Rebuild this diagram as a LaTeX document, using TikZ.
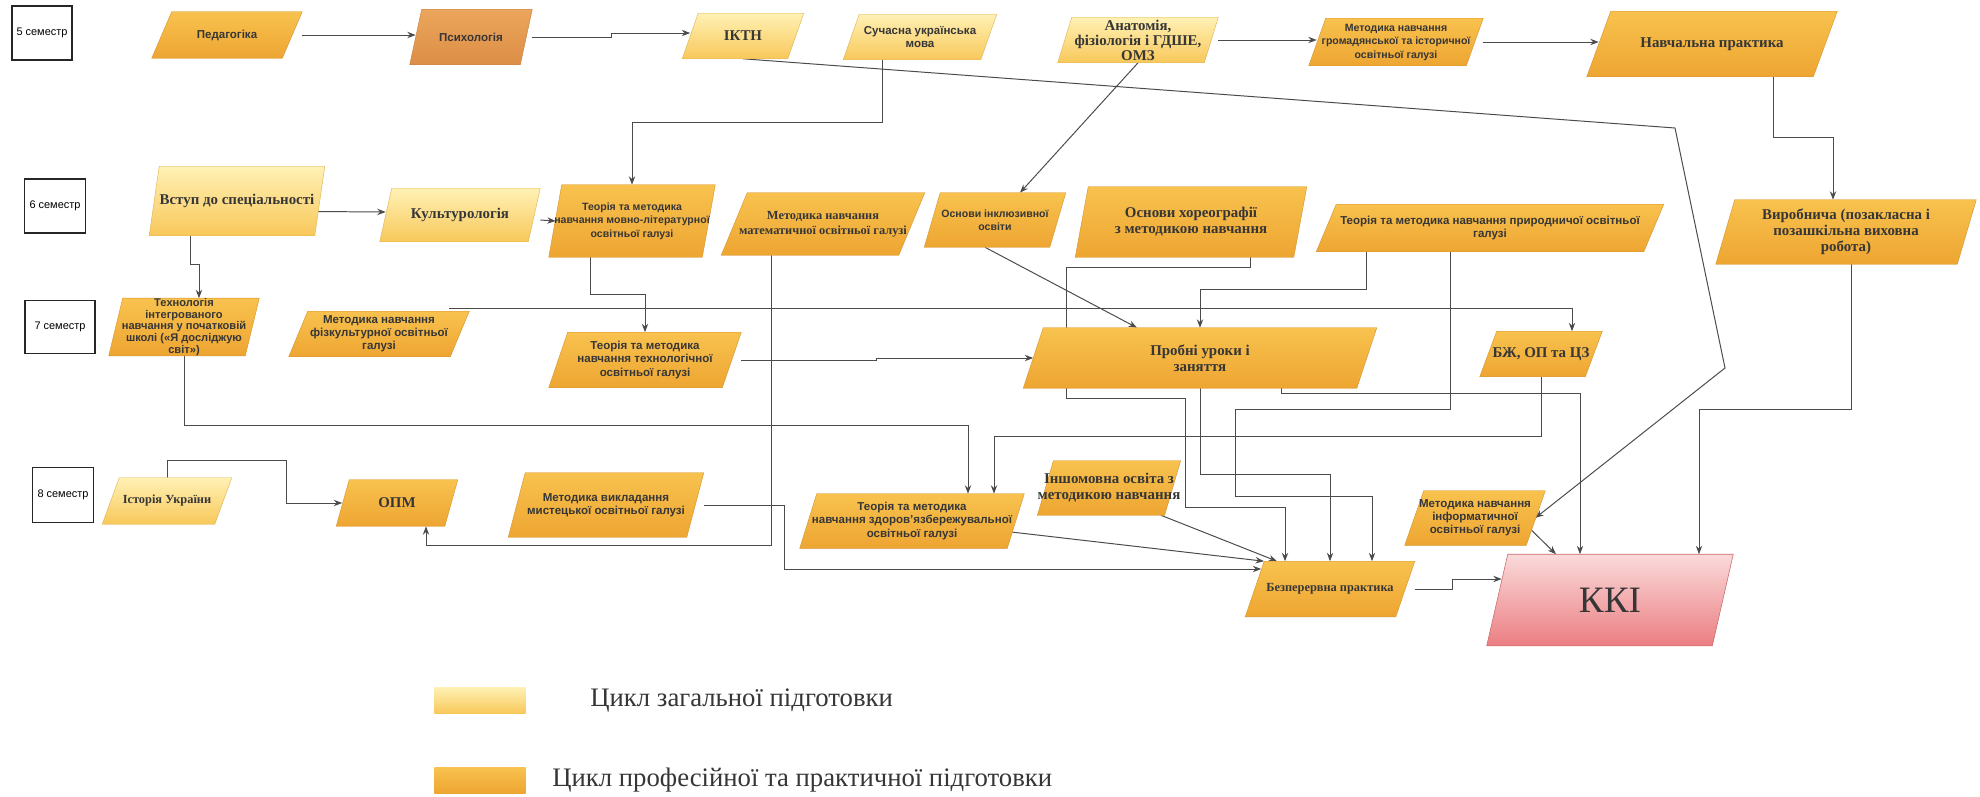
\documentclass[tikz,border=0pt]{standalone}
\usepackage{fontspec}
\setmainfont{Liberation Serif}
\setsansfont{Liberation Sans}
\usetikzlibrary{arrows.meta, positioning, calc, backgrounds}
\definecolor{genTop}{HTML}{FFF1B5}
\definecolor{genBottom}{HTML}{F8C85A}
\definecolor{proTop}{HTML}{F8C24E}
\definecolor{proBottom}{HTML}{EEA532}
\definecolor{psyTop}{HTML}{ECA55C}
\definecolor{psyBottom}{HTML}{DC8E46}
\definecolor{kkiTop}{HTML}{FADADA}
\definecolor{kkiBottom}{HTML}{EB7E82}
\definecolor{lineGray}{HTML}{4B4B4B}
\definecolor{textGray}{HTML}{363636}
\tikzset{
    wh/.style n args={2}{minimum width=#1*0.025cm, minimum height=#2*0.025cm}
}

\begin{document}
\begin{tikzpicture}[
        x=0.025cm, y=-0.025cm,
        cell/.style={rectangle, inner sep=0pt, align=center, text=textGray},
        genfill/.style={top color=genTop, bottom color=genBottom, draw=genBottom!90!black, line width=0.3pt},
        profill/.style={top color=proTop, bottom color=proBottom, draw=proBottom!90!black, line width=0.3pt},
        psyfill/.style={top color=psyTop, bottom color=psyBottom, draw=psyBottom!90!black, line width=0.3pt},
        kkifill/.style={top color=kkiTop, bottom color=kkiBottom, draw=kkiBottom!85!black, line width=0.4pt},
        semester/.style={rectangle, draw=black!85, line width=0.8pt, inner sep=0pt, font=\sffamily\fontsize{7.8}{9}\selectfont},
        sanssm/.style={font=\sffamily\bfseries\fontsize{7.5}{9.6}\selectfont},
        sansmd/.style={font=\sffamily\bfseries\fontsize{8.2}{9.4}\selectfont},
        serifsm/.style={font=\rmfamily\bfseries\fontsize{8.8}{10.6}\selectfont},
        serifbig/.style={font=\rmfamily\bfseries\fontsize{10.6}{11.4}\selectfont},
        legendtxt/.style={font=\rmfamily\fontsize{19}{22}\selectfont, text=textGray},
        swatch/.style={rectangle, minimum width=2.275cm, minimum height=0.65cm, inner sep=0pt},
        arrow/.style={-{Stealth[length=6pt, width=4.5pt]}, line width=0.7pt, lineGray}
    ]
        \useasboundingbox (0,0) rectangle (1980,796);

        % semesters
        \node[semester, wh={60}{54}] (s5) at (42,33) {5 семестр};
        \node[semester, wh={61}{54}] (s6) at (55,206) {6 семестр};
        \node[semester, wh={70}{53}] (s7) at (60,327) {7 семестр};
        \node[semester, wh={61}{55}] (s8) at (63,495) {8 семестр};

        % 5 семестр
        \node[cell, sansmd, wh={150}{46}] (ped) at (227,35) {Педагогіка};
        \node[cell, sansmd, wh={122}{55}] (psy) at (471,37) {Психологія};
        \node[cell, serifbig, wh={121}{45}] (iktn) at (743,36) {ІКТН};
        \node[cell, sansmd, wh={153}{45}] (suchasna) at (920,37) {Сучасна українська\\мова};
        \node[cell, font=\rmfamily\bfseries\fontsize{10.6}{10.7}\selectfont, wh={160}{45}] (anat) at (1138,40) {Анатомія,\\фізіологія і ГДШЕ,\\ОМЗ};
        \node[cell, sanssm, wh={174}{47}] (gromad) at (1396,42) {Методика навчання\\громадянської та історичної\\освітньої галузі};
        \node[cell, serifbig, wh={250}{65}] (navch) at (1712,44) {Навчальна практика};

        % 6 семестр
        \node[cell, serifbig, wh={175}{69}] (vstup) at (237,201) {Вступ до спеціальності};
        \node[cell, serifbig, wh={160}{53}] (kult) at (460,215) {Культурологія};
        \node[cell, sanssm, wh={166}{72}] (movlit) at (632,221) {Теорія та методика\\навчання мовно-літературної\\освітньої галузі};
        \node[cell, serifsm, wh={203}{62}] (matem) at (823,224) {Методика навчання\\математичної освітньої галузі};
        \node[cell, sanssm, wh={141}{54}] (inkl) at (995,220) {Основи інклюзивної\\освіти};
        \node[cell, serifbig, wh={231}{70}] (horeo) at (1191,222) {Основи хореографії\\з методикою навчання};
        \node[cell, sansmd, wh={347}{47}] (pryrod) at (1490,228) {Теорія та методика навчання природничої освітньої\\галузі};
        \node[cell, serifbig, wh={260}{64}] (vyrob) at (1846,232) {Виробнича (позакласна і\\позашкільна виховна\\робота)};

        % 7 семестр
        \node[cell, font=\sffamily\bfseries\fontsize{7.9}{8.3}\selectfont, wh={150}{55}] (tekhint) at (184,327) {Технологія\\інтегрованого\\навчання у початковій\\школі («Я досліджую\\світ»)};
        \node[cell, sansmd, wh={180}{45}] (fizk) at (379,334) {Методика навчання\\фізкультурної освітньої\\галузі};
        \node[cell, sansmd, wh={192}{55}] (tekhnol) at (645,360) {Теорія та методика\\навчання технологічної\\освітньої галузі};
        \node[cell, serifbig, wh={353}{60}] (probni) at (1200,358) {Пробні уроки і\\заняття};
        \node[cell, serifbig, wh={122}{45}] (bzh) at (1541,354) {БЖ, ОП та ЦЗ};

        % 8 семестр
        \node[cell, serifsm, wh={129}{46}] (istor) at (167,501) {Історія України};
        \node[cell, serifbig, wh={121}{46}] (opm) at (397,503) {ОПМ};
        \node[cell, sansmd, wh={195}{64}] (mystets) at (606,505) {Методика викладання\\мистецької освітньої галузі};
        \node[cell, sansmd, wh={224}{54}] (zdorov) at (912,521) {Теорія та методика\\навчання здоров’язбережувальної\\освітньої галузі};
        \node[cell, serifbig, wh={142}{54}] (inshomov) at (1109,488) {Іншомовна освіта з\\методикою навчання};
        \node[cell, serifsm, wh={169}{55}] (bezper) at (1330,589) {Безперервна практика};
        \node[cell, sansmd, wh={140}{54}] (inform) at (1475,518) {Методика навчання\\інформатичної\\освітньої галузі};
        \node[cell, font=\rmfamily\fontsize{26.5}{28}\selectfont, wh={246}{91}] (kki) at (1610,600) {ККІ};

        % legend
        \node[swatch, top color=genTop, bottom color=genBottom] (lgen) at (480,700) {};
        \node[legendtxt, right=1.49cm of lgen] (lgentxt) {Цикл загальної підготовки};
        \node[swatch, top color=proTop, bottom color=proBottom] (lpro) at (480,780) {};
        \node[legendtxt, right=0.54cm of lpro] (lprotxt) {Цикл професійної та практичної підготовки};

        \coordinate (ikBendA) at (1675,128);
        \coordinate (ikBendB) at (1725,368);

        \begin{scope}[on background layer]
            \fill[white] (0,0) rectangle (1980,796);
            % 5 семестр
            \draw[arrow] (ped) -- ($(ped -| psy.west)+(6,0)$);
            \draw[arrow] (psy) -- ++(140,0) |- ($(iktn.west)+(8,-3)$);
            \draw[arrow] (anat) -- ($(anat -| gromad.west)+(8,0)$);
            \draw[arrow] (gromad) -- ($(gromad -| navch.west)+(12,0)$);
            \draw[arrow] ($(suchasna.south)+(-38,0)$) -- ++(0,63) -| (movlit.north);
            \draw[arrow] (anat.south) -- ($(inkl.north)+(25,0)$);
            \draw[arrow] (iktn.south) -- (ikBendA) -- (ikBendB) -- ($(inform.east)+(-10,0)$);
            \draw[arrow] ($(navch.south)+(61,0)$) -- ++(0,61) -| ($(vyrob.north)+(-13,0)$);

            % 6 семестр
            \draw[arrow] ($(vstup)+(0,10)$) -- ($(kult.west)+(6,-3)$);
            \draw[arrow] (kult) -- ($(movlit.west)+(7,0)$);
            \draw[arrow] ($(vstup.south)+(-47,0)$) -- ++(0,29) -| ($(tekhint.north)+(15,0)$);
            \draw[arrow] ($(movlit.south)+(-42,0)$) -- ++(0,37) -| (tekhnol.north);
            \draw[arrow] ($(matem.south)+(-52,0)$) |- ($(opm.south)+(29,19)$) -- ($(opm.south)+(29,0)$);
            \draw[arrow] ($(inkl.south)+(-10,0)$) -- ($(probni.north)+(-63,0)$);
            \draw[arrow] ($(pryrod.south)+(-124,0)$) -- ++(0,38) -| (probni.north);
            \draw[arrow] ($(pryrod.south)+(-40,0)$) -- ++(0,158) -- ++(-215,0) -- ++(0,87) -| ($(bezper.north)+(42,0)$);
            \draw[arrow] ($(horeo.south)+(59,0)$) -- ++(0,10) -- ++(-184,0) -- ++(0,131) -- ++(119,0) -- ++(0,109) -| ($(bezper.north)+(-45,0)$);
            \draw[arrow] ($(vyrob.south)+(5,0)$) -- ++(0,145) -| ($(kki.north)+(89,0)$);

            % 7 семестр
            \draw[arrow] ($(fizk.north)+(70,-3)$) -| ($(bzh.north)+(31,0)$);
            \draw[arrow] (tekhnol) -- ++(231,0) |- ($(probni.west)+(10,0)$);
            \draw[arrow] (tekhint.south) -- ++(0,70) -| ($(zdorov.north)+(56,0)$);
            \draw[arrow] (probni.south) -- ++(0,86) -| (bezper.north);
            \draw[arrow] ($(probni.south)+(81,0)$) -- ++(0,5) -| ($(kki.north)+(-30,0)$);
            \draw[arrow] (bzh.south) -- ++(0,60) -| ($(zdorov.north)+(82,0)$);

            % 8 семестр
            \draw[arrow] (istor.north) -- ++(0,-17) -- ++(119,0) |- ($(opm.west)+(6,0)$);
            \draw[arrow] (mystets) -- ++(178,0) |- ($(bezper.west)+(16,-20)$);
            \draw[arrow] ($(zdorov.east)+(-13,11)$) -- ($(bezper.north)+(-66,0)$);
            \draw[arrow] ($(inshomov.south)+(52,0)$) -- ($(bezper.north)+(-53,0)$);
            \draw[arrow] (bezper) -- ++(122,0) |- ($(kki.west)+(15,-21)$);
            \draw[arrow] ($(inform.east)+(-14,12)$) -- ($(kki.north)+(-54,0)$);

            % parallelograms: node/slant
            \foreach \n/\o in {iktn/16, suchasna/16, anat/14, vstup/10, kult/12, istor/17}
                \path[genfill] (\n.south west) -- ($(\n.north west)+(\o,0)$) -- (\n.north east) -- ($(\n.south east)+(-\o,0)$) -- cycle;
            \foreach \n/\o in {ped/20, gromad/17, navch/24, movlit/13, matem/26, inkl/16, horeo/13, pryrod/20, vyrob/19, tekhint/14, fizk/19, tekhnol/19, probni/20, bzh/17, opm/13, mystets/17, zdorov/17, inshomov/16, bezper/19, inform/19}
                \path[profill] (\n.south west) -- ($(\n.north west)+(\o,0)$) -- (\n.north east) -- ($(\n.south east)+(-\o,0)$) -- cycle;
            \path[psyfill] (psy.south west) -- ($(psy.north west)+(12,0)$) -- (psy.north east) -- ($(psy.south east)+(-12,0)$) -- cycle;
            \path[kkifill] (kki.south west) -- ($(kki.north west)+(21,0)$) -- (kki.north east) -- ($(kki.south east)+(-21,0)$) -- cycle;
        \end{scope}
    \end{tikzpicture}
\end{document}
